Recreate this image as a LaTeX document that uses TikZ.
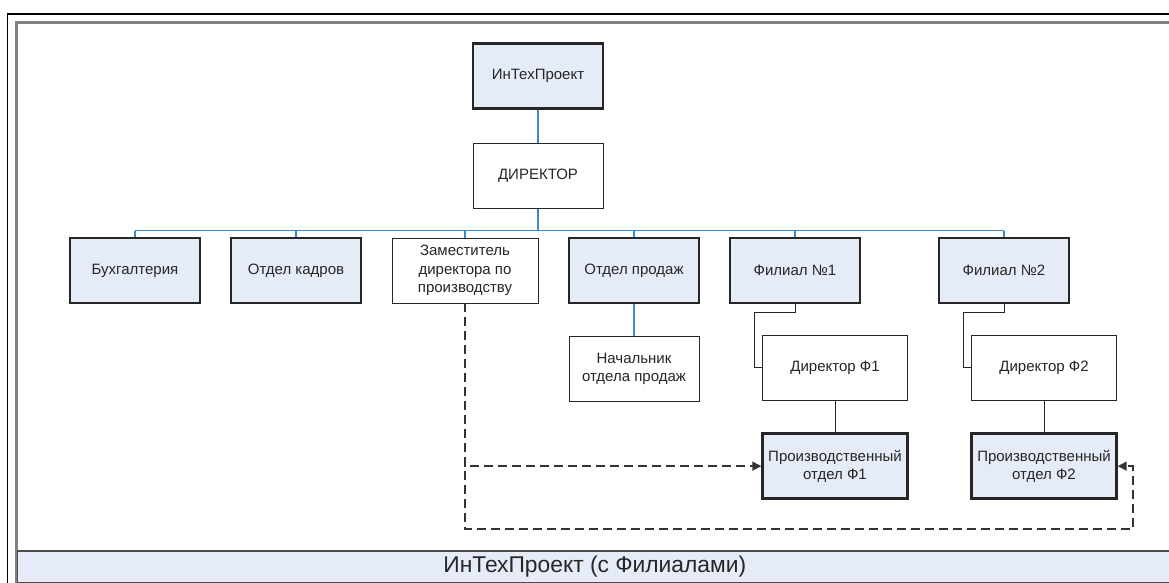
\documentclass[tikz,border=0pt]{standalone}
\usepackage{fontspec}
\setmainfont{Liberation Sans}
\usetikzlibrary{positioning, arrows.meta, calc}
\definecolor{boxblue}{RGB}{230,236,247}
\definecolor{linkblue}{RGB}{58,138,208}
\definecolor{framegray}{RGB}{128,128,128}

\begin{document}
\begin{tikzpicture}[
  x=1pt, y=-1pt,
  font=\fontsize{15}{18.3}\selectfont,
  node distance=33pt,
  unit/.style ={draw=black!85, line width=2.4pt, fill=boxblue, minimum width=130pt, minimum height=65pt, align=center, inner sep=1pt, text=black!85},
  post/.style ={draw=black!85, line width=0.9pt, fill=white, minimum width=130pt, minimum height=65pt, align=center, inner sep=1pt, text=black!85},
  bar/.style  ={draw=black!70, line width=1.5pt, fill=boxblue, minimum width=1155pt, minimum height=32pt, inner sep=0pt, text=black!85, font=\fontsize{22.8}{26}\selectfont},
  link/.style ={linkblue, line width=1.3pt},
  sub/.style  ={black!85, line width=1pt},
  task/.style ={dash pattern=on 9pt off 5pt, line width=1.5pt, black!80, -{Triangle[length=9pt, width=9pt]}},
]
\useasboundingbox (0,0) rectangle (1169,583);
\clip (0,0) rectangle (1169,583);
% page frame
\draw[black, line width=1.2pt] (7.5,600) |- (1180,14);
\draw[framegray, line width=2.5pt] (16.5,600) |- (1180,22.5);
\node[bar, anchor=north west] (caption) at (16.5,550) {ИнТехПроект (с Филиалами)};

\node[unit] (firm) at (538,76) {ИнТехПроект};
\node[post, below=of firm] (dir) {ДИРЕКТОР};
\node[unit] (acc)   at (135,270.5) {Бухгалтерия};
\node[unit] (hr)    at (296,270.5) {Отдел кадров};
\node[post, minimum width=146pt] (deputy) at (465,270.5) {Заместитель\\директора по\\производству};
\node[unit] (sales) at (634,270.5) {Отдел продаж};
\node[unit] (br1)   at (795,270.5) {Филиал №1};
\node[unit] (br2)   at (1004,270.5) {Филиал №2};
\node[post, below=32pt of sales] (saleshead) {Начальник\\отдела продаж};
\node[post, minimum width=145pt] (dir1) at (835,367.5) {Директор Ф1};
\node[post, minimum width=145pt] (dir2) at (1044,367.5) {Директор Ф2};
\node[unit, minimum width=145pt, below=32pt of dir1] (prod1) {Производственный\\отдел Ф1};
\node[unit, minimum width=145pt, below=32pt of dir2] (prod2) {Производственный\\отдел Ф2};

% blue tree
\coordinate (bus) at (0,230.5);
\draw[link] (firm) -- (dir);
\draw[link] (dir.south) -- (dir.south |- bus);
\draw[link] (acc.north |- bus) -- (br2.north |- bus);
\foreach \n in {acc, hr, deputy, sales, br1, br2}
  \draw[link] (\n.north |- bus) -- (\n.north);
\draw[link] (sales) -- (saleshead);

% branches
\draw[sub] (br1.south) -- ++(0,8) -| ($(dir1.west)+(-7.5,0)$) -- (dir1.west);
\draw[sub] (br2.south) -- ++(0,8) -| ($(dir2.west)+(-7.5,0)$) -- (dir2.west);
\draw[sub] (dir1) -- (prod1);
\draw[sub] (dir2) -- (prod2);

% deputy to production
\coordinate (loop) at (1133,529);
\draw[task] (deputy.south) |- (prod1.west);
\draw[task] (deputy.south) |- (loop) |- (prod2.east);
\end{tikzpicture}
\end{document}
